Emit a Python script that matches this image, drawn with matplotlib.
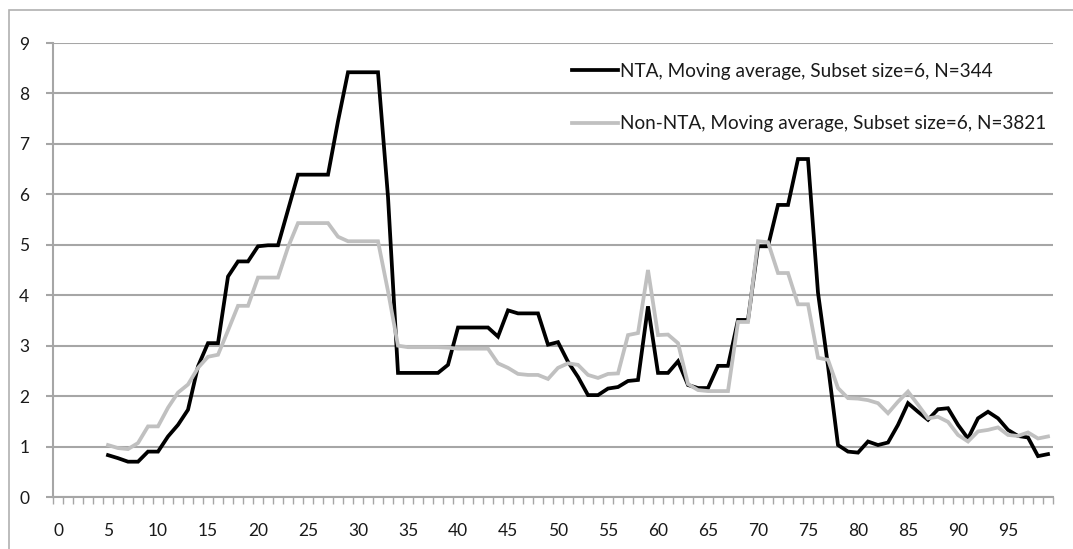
import matplotlib
matplotlib.use("Agg")
import matplotlib.pyplot as plt
import matplotlib.patches as mpatches
import numpy as np

plt.rcParams['font.family'] = ['Lato', 'DejaVu Sans']

x_vals = list(range(5, 100))
nta = [0.83, 0.77, 0.70, 0.70, 0.90, 0.90, 1.20, 1.43, 1.73, 2.59,
       3.05, 3.05, 4.37, 4.67, 4.67, 4.97, 4.99, 4.99, 5.69, 6.39,
       6.39, 6.39, 6.39, 7.45, 8.42, 8.42, 8.42, 8.42, 5.95, 2.46,
       2.46, 2.46, 2.46, 2.46, 2.62, 3.36, 3.36, 3.36, 3.36, 3.18,
       3.70, 3.64, 3.64, 3.64, 3.02, 3.07, 2.68, 2.38, 2.02, 2.02,
       2.15, 2.18, 2.30, 2.32, 3.78, 2.46, 2.46, 2.69, 2.22, 2.16,
       2.16, 2.60, 2.60, 3.51, 3.51, 4.97, 4.97, 5.79, 5.79, 6.70,
       6.70, 4.05, 2.60, 1.03, 0.90, 0.88, 1.10, 1.03, 1.08, 1.43,
       1.86, 1.69, 1.53, 1.74, 1.76, 1.43, 1.16, 1.56, 1.69, 1.56,
       1.33, 1.21, 1.18, 0.81, 0.85]
non_nta = [1.03, 0.97, 0.95, 1.07, 1.40, 1.40, 1.77, 2.07, 2.23, 2.56,
           2.78, 2.82, 3.30, 3.79, 3.79, 4.35, 4.35, 4.35, 4.95, 5.43,
           5.43, 5.43, 5.43, 5.16, 5.07, 5.07, 5.07, 5.07, 4.08, 3.00,
           2.97, 2.97, 2.97, 2.97, 2.96, 2.94, 2.94, 2.94, 2.94, 2.65,
           2.56, 2.44, 2.42, 2.42, 2.34, 2.56, 2.65, 2.62, 2.42, 2.36,
           2.44, 2.45, 3.21, 3.25, 4.50, 3.21, 3.22, 3.05, 2.24, 2.12,
           2.10, 2.10, 2.10, 3.47, 3.47, 5.07, 5.05, 4.44, 4.44, 3.82,
           3.82, 2.76, 2.72, 2.16, 1.96, 1.95, 1.92, 1.86, 1.66, 1.89,
           2.09, 1.83, 1.56, 1.59, 1.49, 1.23, 1.10, 1.30, 1.33, 1.38,
           1.23, 1.21, 1.28, 1.16, 1.20]
labels = ["NTA, Moving average, Subset size=6, N=344",
          "Non-NTA, Moving average, Subset size=6, N=3821"]
y_ticks = list(range(0, 10))
x_tick_labels = list(range(0, 100, 5))

W, H = 1073, 549
fig = plt.figure(figsize=(W / 100, H / 100), dpi=100)
fig.patch.set_facecolor('white')

# outer chart border
fig.add_artist(mpatches.Rectangle((9 / W, -0.05), 1.2, (H - 10) / H + 0.05,
                                  transform=fig.transFigure, fill=False,
                                  edgecolor='#b0b0b0', linewidth=1.2))

left, right, top, bottom = 53, 1053, 43, 497
ax = fig.add_axes([left / W, (H - bottom) / H, (right - left) / W, (bottom - top) / H])

grid_c = '#a6a6a6'
ax.set_ylim(0, 9)
ax.set_xlim(-0.5, 99.5)
ax.set_yticks(y_ticks)
ax.set_yticklabels([str(v) for v in y_ticks])
ax.yaxis.grid(True, color=grid_c, linewidth=1.5)
ax.set_axisbelow(True)

ax.set_xticks(x_tick_labels)
ax.set_xticklabels([str(v) for v in x_tick_labels])
ax.set_xticks(np.arange(-0.5, 100, 1), minor=True)
ax.tick_params(axis='x', which='major', length=0, pad=19, labelsize=12.5, labelcolor='#1a1a1a')
ax.tick_params(axis='x', which='minor', length=5, width=1, color=grid_c, direction='out')
ax.tick_params(axis='y', length=5, width=1.5, color=grid_c, pad=12, labelsize=12.5, labelcolor='#1a1a1a')

for s in ['top', 'right']:
    ax.spines[s].set_visible(False)
for s in ['left', 'bottom']:
    ax.spines[s].set_color(grid_c)
    ax.spines[s].set_linewidth(1.5)

l1, = ax.plot(x_vals, nta, color='black', linewidth=2.7, solid_joinstyle='miter', zorder=3, label=labels[0])
l2, = ax.plot(x_vals, non_nta, color='#c0c0c0', linewidth=2.7, solid_joinstyle='miter', zorder=4, label=labels[1])

leg = fig.legend(handles=[l1, l2], loc='upper left',
                 bbox_to_anchor=(572 / W, 1 - 63 / H), frameon=False,
                 fontsize=13.7, handlelength=2.4, handletextpad=0.1,
                 labelspacing=1.85, borderpad=0, borderaxespad=0)
for t in leg.get_texts():
    t.set_color('#1a1a1a')

fig.savefig('out.png', dpi=100, facecolor='white')
